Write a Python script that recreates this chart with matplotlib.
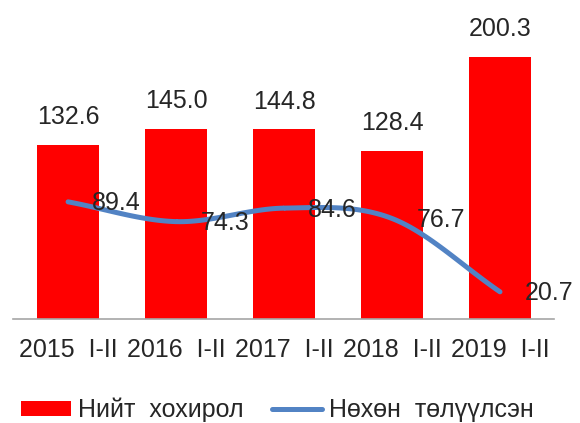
import matplotlib.pyplot as plt
import numpy as np

categories = ['2015  I-II', '2016  I-II', '2017  I-II', '2018  I-II', '2019  I-II']
total = [132.6, 145.0, 144.8, 128.4, 200.3]
paid = [89.4, 74.3, 84.6, 76.7, 20.7]

plt.rcParams['font.family'] = ['Liberation Sans', 'DejaVu Sans']
txt = '#262626'
fs = 18


def smooth(x, y, n=30):
    # catmull-rom, like excel's smoothed line
    x = np.asarray(x, float)
    y = np.asarray(y, float)
    px = np.concatenate([[2 * x[0] - x[1]], x, [2 * x[-1] - x[-2]]])
    py = np.concatenate([[2 * y[0] - y[1]], y, [2 * y[-1] - y[-2]]])
    xs, ys = [], []
    t = np.linspace(0, 1, n)
    for i in range(1, len(px) - 2):
        for p, out in ((px, xs), (py, ys)):
            p0, p1, p2, p3 = p[i - 1], p[i], p[i + 1], p[i + 2]
            out.extend(0.5 * (2 * p1 + (-p0 + p2) * t + (2 * p0 - 5 * p1 + 4 * p2 - p3) * t ** 2
                              + (-p0 + 3 * p1 - 3 * p2 + p3) * t ** 3))
    return np.array(xs), np.array(ys)


fig = plt.figure(figsize=(5.8, 4.23), dpi=100)
ax = fig.add_axes([13 / 580, 0.246, 541 / 580, 0.754])
idx = np.arange(len(categories))
bars = ax.bar(idx, total, width=0.57, color='#FF0000', zorder=2)
for i, v in enumerate(total):
    ax.annotate(f'{v:.1f}', (idx[i], v), xytext=(0, 20), textcoords='offset points',
                ha='center', va='center', fontsize=fs, color=txt)

sx, sy = smooth(idx, paid)
line, = ax.plot(sx, sy, color='#5283C4', lw=3.6, solid_capstyle='round', zorder=3)
for i, v in enumerate(paid):
    ax.annotate(f'{v:.1f}', (idx[i], v), xytext=(35, -1), textcoords='offset points',
                ha='center', va='center', fontsize=fs, color=txt, zorder=4)

ax.set_xlim(-0.51, 4.5)
ax.set_ylim(0, 243.5)
ax.set_xticks(idx)
ax.set_xticklabels(categories, fontsize=fs, color=txt)
ax.tick_params(axis='x', length=0, pad=14)
ax.set_yticks([])
for s in ['top', 'right', 'left']:
    ax.spines[s].set_visible(False)
ax.spines['bottom'].set_color('#A6A6A6')
ax.spines['bottom'].set_linewidth(1.2)

fig.legend([bars, line], ['Нийт  хохирол', 'Нөхөн  төлүүлсэн'], loc='center left',
           bbox_to_anchor=(21 / 580, 0.031), ncol=2, frameon=False, fontsize=fs,
           handlelength=2.0, handleheight=0.55, columnspacing=1.15, handletextpad=0.28,
           labelcolor=txt, borderpad=0, borderaxespad=0)

fig.savefig('out.png', dpi=100)
